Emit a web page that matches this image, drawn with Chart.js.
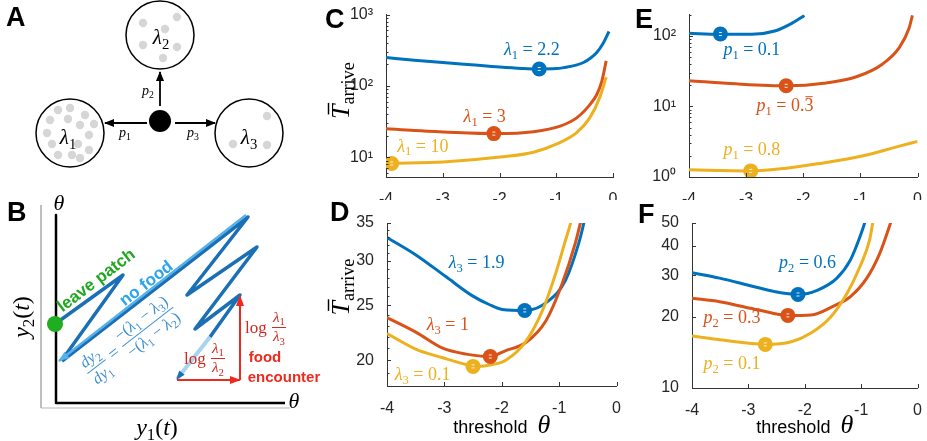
<!DOCTYPE html>
<html>
<head>
<meta charset="utf-8">
<script src="https://cdn.jsdelivr.net/npm/chart.js@4.4.0/dist/chart.umd.min.js"></script>
<style>
html,body{margin:0;padding:0;background:#fff}
#fig{position:relative;width:927px;height:441px;overflow:hidden;background:#fff}
#fig canvas{position:absolute}
.lt{position:absolute;font:bold 27px "Liberation Sans",Arial,sans-serif;line-height:27px;color:#000}
</style>
</head>
<body>
<div id="fig">
  <canvas id="cvAB" style="left:0px;top:0px" width="322" height="441"></canvas>
  <canvas id="cvC" style="left:322px;top:0px" width="304" height="200"></canvas>
  <canvas id="cvD" style="left:322px;top:205px" width="304" height="236"></canvas>
  <canvas id="cvE" style="left:630px;top:0px" width="297" height="200"></canvas>
  <canvas id="cvF" style="left:630px;top:205px" width="297" height="236"></canvas>
  <div class="lt" style="left:6px;top:4px">A</div>
  <div class="lt" style="left:7px;top:199px">B</div>
  <div class="lt" style="left:325px;top:6px">C</div>
  <div class="lt" style="left:330px;top:199px">D</div>
  <div class="lt" style="left:635px;top:6px">E</div>
  <div class="lt" style="left:638px;top:201px">F</div>
</div>
<script>
const SANS = '"Liberation Sans", Arial, Helvetica, sans-serif'
const SERIF = '"Liberation Serif", "Times New Roman", serif'
const COLORS = ['#0072BD', '#D95319', '#EDB120']
const AX = '#333333'
const TK = '#262626'
const TICK_SIZE = 16

// x axis: threshold theta
const thetaTicks = [-4, -3, -2, -1, 0]

// C: lambda1 = 2.2, 3, 10
const thetaC1 = [-4, -3.5, -3, -2.5, -2, -1.6, -1.3, -1, -0.85, -0.65, -0.52, -0.4, -0.29, -0.17, -0.07]
const tC1 = [250, 230, 213, 198, 184, 176, 173, 175, 182, 196, 213, 245, 292, 401, 579]
const thetaC2 = [-4, -3.5, -2.99, -2.05, -1.4, -0.93, -0.64, -0.41, -0.29, -0.2, -0.12]
const tC2 = [25.2, 23.7, 22.7, 21.5, 22.9, 27.4, 35.7, 54.4, 74.6, 114, 225]
const thetaC3 = [-3.9, -2.99, -1.99, -1.4, -0.99, -0.64, -0.41, -0.24, -0.12]
const tC3 = [8.2, 8.6, 10.1, 11.8, 15.4, 22.2, 35.7, 67, 133]
const optThetaC = [-1.3, -2.1, -3.9]
const optTC = [173, 21.5, 8.2]
const valuesC = ['2.2', '3', '10']

// D: lambda3 = 1.9, 1, 0.1
const thetaD1 = [-4, -3.49, -2.97, -2.51, -2.22, -1.99, -1.58, -1.18, -0.89, -0.66, -0.57, -0.5]
const tD1 = [33.0, 30.7, 28.1, 26.0, 25.1, 24.6, 24.5, 25.5, 27.7, 32.2, 35, 38]
const thetaD2 = [-4, -3.49, -3.03, -2.62, -2.22, -1.93, -1.58, -1.23, -0.95, -0.72, -0.63, -0.55]
const tD2 = [23.8, 22.4, 21.0, 20.5, 20.3, 20.8, 21.5, 23.5, 27.3, 32.2, 35, 38]
const thetaD3 = [-4, -3.49, -3.03, -2.62, -2.45, -2.16, -1.93, -1.58, -1.29, -1.06, -0.89, -0.8, -0.72]
const tD3 = [22.3, 20.9, 20.2, 19.65, 19.5, 19.65, 20.0, 21.6, 24.5, 28.5, 32.6, 35, 38]
const optThetaD = [-1.6, -2.2, -2.5]
const optTD = [24.5, 20.3, 19.5]
const valuesD = ['1.9', '1', '0.1']

// E: p1 = 0.1, 1/3, 0.8
const thetaE1 = [-4, -3.47, -2.9, -2.5, -2.21, -1.98]
const tE1 = [109, 105, 105, 117, 149, 194]
const thetaE2 = [-4, -3.18, -2.27, -1.64, -1.07, -0.61, -0.32, -0.15, -0.09]
const tE2 = [23.2, 20.9, 19.6, 21.3, 26.3, 40, 68, 127, 195]
const thetaE3 = [-4, -3.5, -2.9, -2.3, -1.75, -0.95, -0.32, 0]
const tE3 = [1.27, 1.24, 1.22, 1.33, 1.54, 2.0, 2.74, 3.2]
const optThetaE = [-3.45, -2.3, -2.92]
const optTE = [106, 19.6, 1.22]
const valuesE = ['0.1', '0.3bar', '0.8']

// F: p2 = 0.6, 1/3, 0.1
const thetaF1 = [-4, -3.51, -2.93, -2.53, -2.12, -1.77, -1.43, -1.19, -1.02, -0.93, -0.88]
const tF1 = [30.8, 29.2, 27.0, 25.6, 24.9, 26.0, 29.2, 34.9, 43.8, 50.7, 56]
const thetaF2 = [-4, -3.51, -2.82, -2.3, -1.89, -1.48, -1.19, -0.9, -0.67, -0.47, -0.42]
const tF2 = [24.0, 23.2, 21.4, 20.3, 20.4, 22.3, 24.4, 29.2, 37.2, 50.7, 55]
const thetaF3 = [-4, -3.51, -2.7, -2.24, -1.89, -1.54, -1.25, -1.02, -0.85, -0.79, -0.75]
const tF3 = [16.6, 16.0, 15.3, 15.7, 17.1, 20.0, 25.2, 32.7, 42.4, 50.7, 56]
const optThetaF = [-2.12, -2.3, -2.7]
const optTF = [24.9, 20.3, 15.3]
const valuesF = ['0.6', '0.3bar', '0.1']

// A: patches and food items (diagram coordinates)
const patchX = [70, 160, 249]
const patchY = [133, 35, 133]
const foodX = [58, 70, 50, 68, 85, 80, 94, 47, 89, 52, 78, 58, 72, 80, 89, 143, 177, 165, 143, 177, 163, 267, 233, 267]
const foodY = [110, 108, 120, 119, 115, 125, 124, 133, 135, 144, 144, 155, 155, 158, 150, 23, 17, 29, 45, 47, 58, 116, 144, 145]
const hubXY = [160, 121]
const arrowsA = [[[147, 123], [105, 123]], [[160, 106], [160, 72]], [[175, 123], [215, 123]]]

// B: belief trajectory
const axesB = [[56, 215], [56, 403], [285, 403]]
const frameB = [[41, 205], [41, 408], [290, 408]]
const zigzagB = [[210, 337], [240, 295], [195, 329], [257, 247], [187, 295], [248, 217], [62, 361]]
const leaveB = [[55, 324], [123, 275], [62, 360]]
const noFoodB = [[246, 215], [59, 361]]
const startB = [[210, 337], [177, 379]]
const jumpB1 = [[177, 380], [240, 380]]
const jumpB2 = [[240, 380], [240, 296]]

// ---------- rich text (italic symbols, subscripts, fractions)
function fontFor(k, sz){
  if (k.s === 'i') return 'italic ' + sz + 'px ' + SERIF
  if (k.s === 'b') return 'bold ' + sz + 'px ' + SANS
  if (k.s === 'sans') return sz + 'px ' + SANS
  return sz + 'px ' + SERIF
}
function tokSize(k, size){ return size * (k.k || 1) * (k.sub ? 0.7 : 1) }
function measure(ctx, toks, size){
  let w = 0
  for (const k of toks){
    if (k.frac){
      const fs = size * 0.9
      w += Math.max(measure(ctx, k.frac[0], fs), measure(ctx, k.frac[1], fs)) + 4
      continue
    }
    ctx.font = fontFor(k, tokSize(k, size))
    w += ctx.measureText(k.t).width
  }
  return w
}
function drawToks(ctx, toks, x, y, size){
  for (const k of toks){
    if (k.frac){
      const fs = size * 0.9
      const wn = measure(ctx, k.frac[0], fs), wd = measure(ctx, k.frac[1], fs)
      const w = Math.max(wn, wd) + 4
      const mid = y - size * 0.3
      drawToks(ctx, k.frac[0], x + (w - wn) / 2, mid - size * 0.32, fs)
      drawToks(ctx, k.frac[1], x + (w - wd) / 2, mid + size * 0.82, fs)
      ctx.fillRect(x + 1, mid - 0.5, w - 2, 1)
      x += w
      continue
    }
    const sz = tokSize(k, size)
    ctx.font = fontFor(k, sz)
    ctx.fillText(k.t, x, y + (k.sub ? size * 0.22 : 0))
    const tw = ctx.measureText(k.t).width
    if (k.bar){
      const sh = k.s === 'i' ? sz * 0.12 : 0
      ctx.fillRect(x + tw * 0.1 + sh, y - sz * 0.8, tw * 0.8, Math.max(1, sz / 18))
    }
    x += tw
  }
  return x
}
function drawMath(ctx, toks, cx, cy, size, color, rot){
  ctx.save()
  ctx.translate(cx, cy)
  if (rot) ctx.rotate(rot)
  ctx.fillStyle = color
  ctx.textAlign = 'left'
  ctx.textBaseline = 'alphabetic'
  const w = measure(ctx, toks, size)
  drawToks(ctx, toks, -w / 2, size * 0.33, size)
  ctx.restore()
}
const sym = (s, n) => [{t: s, s: 'i'}, {t: n, sub: true}]
const eqVal = v => v === '0.3bar' ? [{t: ' = 0.'}, {t: '3', bar: true}] : [{t: ' = ' + v}]

const TITLE_T = [{t: 'T', s: 'i', bar: true}, {t: 'arrive', sub: true}]
const TITLE_X = [{t: 'threshold  ', s: 'sans'}, {t: 'θ', s: 'i', k: 1.45}]

function series(xs, ys){ return xs.map((x, i) => ({x: x, y: ys[i]})) }

// ---------- curve panels C-F
function curvePanel(id, p){
  const datasets = []
  p.optTheta.forEach((x, i) => {
    datasets.push({data: [{x: x, y: p.optT[i]}], isMarker: true, showLine: false,
      pointRadius: 7.5, pointBackgroundColor: COLORS[i], pointBorderWidth: 0, order: 0})
  })
  p.curves.forEach((c, i) => {
    datasets.push({data: series(c[0], c[1]), showLine: true, borderColor: COLORS[i], borderWidth: 3,
      pointRadius: 0, cubicInterpolationMode: 'monotone', borderJoinStyle: 'round', order: 3 - i})
  })
  const annot = {
    id: 'annot' + id,
    afterDatasetsDraw(chart){
      const {ctx, chartArea: a, scales: {x, y}} = chart
      ctx.save()
      ctx.strokeStyle = AX
      ctx.lineWidth = 1
      ctx.beginPath()
      thetaTicks.forEach(v => {
        const px = Math.round(x.getPixelForValue(v)) + 0.5
        ctx.moveTo(px, a.bottom); ctx.lineTo(px, a.bottom - 4)
      })
      p.yTicks.forEach(v => {
        const py = Math.round(y.getPixelForValue(v)) + 0.5
        ctx.moveTo(a.left, py); ctx.lineTo(a.left + 4, py)
      })
      p.yMinor.forEach(v => {
        const py = Math.round(y.getPixelForValue(v)) + 0.5
        ctx.moveTo(a.left, py); ctx.lineTo(a.left + 2.5, py)
      })
      ctx.stroke()
      chart.data.datasets.forEach((ds, i) => {
        if (!ds.isMarker) return
        chart.getDatasetMeta(i).data.forEach(pt => {
          ctx.fillStyle = 'rgba(255,255,255,0.85)'
          ctx.fillRect(pt.x - 1.5, pt.y - 2, 3, 1)
          ctx.fillRect(pt.x - 1.5, pt.y + 1, 3, 1)
        })
      })
      p.values.forEach((v, i) => {
        drawMath(ctx, sym(p.sym, p.symIdx).concat(eqVal(v)),
          x.getPixelForValue(p.labelTheta[i]), y.getPixelForValue(p.labelT[i]), 18, COLORS[i])
      })
      if (p.yTitle) drawMath(ctx, TITLE_T, a.left + p.yTitle[0], a.top + p.yTitle[1], 26, '#000', -Math.PI / 2)
      if (p.xTitle) drawMath(ctx, TITLE_X, (a.left + a.right) / 2, a.bottom + p.xTitle, 18, '#000')
      ctx.restore()
    }
  }
  new Chart(document.getElementById(id), {
    type: 'scatter',
    data: {datasets: datasets},
    options: {
      responsive: false,
      animation: false,
      events: [],
      layout: {autoPadding: false, padding: {top: p.pad[0], right: p.pad[1], bottom: 0, left: 0}},
      plugins: {legend: {display: false}, tooltip: {enabled: false}},
      scales: {
        x: {
          type: 'linear', min: -4, max: 0,
          afterFit: s => { s.height = p.xH },
          afterBuildTicks: s => { s.ticks = thetaTicks.map(v => ({value: v})) },
          grid: {display: false},
          border: {display: true, color: AX, width: 1},
          ticks: {font: {family: SANS, size: TICK_SIZE}, color: TK, padding: 5, maxRotation: 0, autoSkip: false}
        },
        y: {
          type: 'logarithmic', min: p.yMin, max: p.yMax,
          afterFit: s => { s.width = p.yW },
          afterBuildTicks: s => { s.ticks = p.yTicks.map(v => ({value: v})) },
          grid: {display: false},
          border: {display: true, color: AX, width: 1},
          ticks: {font: {family: SANS, size: TICK_SIZE}, color: TK, padding: 5, autoSkip: false,
            callback: v => p.yLabel(v)}
        }
      }
    },
    plugins: [annot]
  })
}

const pow10 = {1: '10⁰', 10: '10¹', 100: '10²', 1000: '10³'}

curvePanel('cvC', {
  curves: [[thetaC1, tC1], [thetaC2, tC2], [thetaC3, tC3]],
  optTheta: optThetaC, optT: optTC, values: valuesC, sym: 'λ', symIdx: '1',
  labelTheta: [-1.43, -2.26, -3.35], labelT: [331, 37.6, 14.6],
  yMin: 5.3, yMax: 1000, yTicks: [10, 100, 1000],
  yMinor: [6, 7, 8, 9, 20, 30, 40, 50, 60, 70, 80, 90, 200, 300, 400, 500, 600, 700, 800, 900],
  yLabel: v => pow10[v] || '', pad: [11, 13], yW: 64, xH: 23, yTitle: [-46, 76]
})
curvePanel('cvD', {
  curves: [[thetaD1, tD1], [thetaD2, tD2], [thetaD3, tD3]],
  optTheta: optThetaD, optT: optTD, values: valuesD, sym: 'λ', symIdx: '3',
  labelTheta: [-2.44, -2.94, -3.38], labelT: [29.8, 23.2, 18.9],
  yMin: 18, yMax: 35, yTicks: [20, 25, 30, 35],
  yMinor: [18, 19, 21, 22, 23, 24, 26, 27, 28, 29, 31, 32, 33, 34],
  yLabel: v => String(v), pad: [18, 8], yW: 65, xH: 55, yTitle: [-47, 64], xTitle: 41
})
curvePanel('cvE', {
  curves: [[thetaE1, tE1], [thetaE2, tE2], [thetaE3, tE3]],
  optTheta: optThetaE, optT: optTE, values: valuesE, sym: 'p', symIdx: '1',
  labelTheta: [-2.9, -2.32, -2.9], labelT: [64, 10.6, 2.5],
  yMin: 1, yMax: 200, yTicks: [1, 10, 100],
  yMinor: [2, 3, 4, 5, 6, 7, 8, 9, 20, 30, 40, 50, 60, 70, 80, 90, 200],
  yLabel: v => pow10[v] || '', pad: [10, 5], yW: 59, xH: 23
})
curvePanel('cvF', {
  curves: [[thetaF1, tF1], [thetaF2, tF2], [thetaF3, tF3]],
  optTheta: optThetaF, optT: optTF, values: valuesF, sym: 'p', symIdx: '2',
  labelTheta: [-1.95, -3.29, -3.29], labelT: [34.2, 20.0, 12.8],
  yMin: 10, yMax: 50, yTicks: [10, 20, 30, 40, 50], yMinor: [],
  yLabel: v => String(v), pad: [18, 5], yW: 62, xH: 53, xTitle: 39
})

// ---------- diagram panels A and B
const DARK = '#1a6fb5', LIGHT = '#56b0ea', PALE = '#a9d4f0', REDA = '#ee2a1f', REDT = '#cf2a22'
const pts = arr => arr.map(q => ({x: q[0], y: q[1]}))
function path(arr, color, width, extra){
  return Object.assign({data: pts(arr), showLine: true, borderColor: color, borderWidth: width,
    pointRadius: 0, borderJoinStyle: 'round', clip: false, order: 3}, extra || {})
}
const diagramSets = [
  {data: patchX.map((x, i) => ({x: x, y: patchY[i]})), pointRadius: 34, pointBackgroundColor: '#fff',
    pointBorderColor: '#000', pointBorderWidth: 1.5, clip: false, order: 6},
  {data: foodX.map((x, i) => ({x: x, y: foodY[i]})), pointRadius: 4.2, pointBackgroundColor: '#d6d6d6',
    pointBorderWidth: 0, clip: false, order: 5},
  {data: [{x: hubXY[0], y: hubXY[1]}], pointRadius: 11, pointBackgroundColor: '#000', pointBorderWidth: 0, clip: false, order: 5},
  path(frameB, '#b5b5b5', 1, {order: 5}),
  path(axesB, '#000', 2.5, {order: 4}),
  path(zigzagB, DARK, 3.5),
  path(leaveB, DARK, 3.5),
  path(noFoodB, LIGHT, 2.5, {order: 2, head: [LIGHT, 10, 8]}),
  path(startB, PALE, 4, {order: 2, head: [DARK, 8, 7]}),
  path(jumpB1, REDA, 2, {order: 1, head: [REDA, 10, 8]}),
  path(jumpB2, REDA, 2, {order: 1, head: [REDA, 10, 8]}),
  {data: [{x: leaveB[0][0], y: leaveB[0][1]}], pointRadius: 8, pointBackgroundColor: '#1fae1f',
    pointBorderWidth: 0, clip: false, order: 0}
]
arrowsA.forEach(a => diagramSets.push(path(a, '#000', 1.8, {order: 4, head: ['#000', 9, 8]})))

const diagramText = [
  {at: [68, 137], toks: sym('λ', '1'), size: 21, color: '#000'},
  {at: [161, 37], toks: sym('λ', '2'), size: 21, color: '#000'},
  {at: [249, 137], toks: sym('λ', '3'), size: 21, color: '#000'},
  {at: [125, 132], toks: sym('p', '1'), size: 14, color: '#000'},
  {at: [148, 90], toks: sym('p', '2'), size: 14, color: '#000'},
  {at: [193, 132], toks: sym('p', '3'), size: 14, color: '#000'},
  {at: [59, 203], toks: [{t: 'θ', s: 'i'}], size: 22, color: '#000'},
  {at: [294, 401], toks: [{t: 'θ', s: 'i'}], size: 22, color: '#000'},
  {at: [21, 317], toks: [{t: 'y', s: 'i'}, {t: '2', sub: true}, {t: '('}, {t: 't', s: 'i'}, {t: ')'}], size: 24, color: '#000', rot: -Math.PI / 2},
  {at: [157, 427], toks: [{t: 'y', s: 'i'}, {t: '1', sub: true}, {t: '('}, {t: 't', s: 'i'}, {t: ')'}], size: 24, color: '#000'},
  {at: [96, 280], toks: [{t: 'leave patch', s: 'b'}], size: 17, color: '#22a722', rot: -0.65},
  {at: [146, 283], toks: [{t: 'no food', s: 'b'}], size: 17, color: '#2aa4ee', rot: -0.66},
  {at: [130, 340], toks: [
    {frac: [[{t: 'd', s: 'i'}, {t: 'y', s: 'i'}, {t: '2', sub: true}], [{t: 'd', s: 'i'}, {t: 'y', s: 'i'}, {t: '1', sub: true}]]},
    {t: ' = '},
    {frac: [[{t: '−('}].concat(sym('λ', '1'), [{t: ' − '}], sym('λ', '3'), [{t: ')'}]),
            [{t: '−('}].concat(sym('λ', '1'), [{t: ' − '}], sym('λ', '2'), [{t: ')'}])]}
  ], size: 18, color: '#3b8fd0', rot: -0.66},
  {at: [266, 327], toks: [{t: 'log '}, {frac: [sym('λ', '1'), sym('λ', '3')]}], size: 17, color: REDT},
  {at: [205, 358], toks: [{t: 'log '}, {frac: [sym('λ', '1'), sym('λ', '2')]}], size: 17, color: REDT},
  {at: [265, 357], toks: [{t: 'food', s: 'b'}], size: 15, color: REDA},
  {at: [284, 377], toks: [{t: 'encounter', s: 'b'}], size: 15, color: REDA}
]

const diagramDecor = {
  id: 'diagramDecor',
  afterDatasetsDraw(chart){
    const {ctx, scales: {x, y}} = chart
    chart.data.datasets.forEach((ds, i) => {
      if (!ds.head) return
      const el = chart.getDatasetMeta(i).data
      const p1 = el[el.length - 2], p2 = el[el.length - 1]
      const ang = Math.atan2(p2.y - p1.y, p2.x - p1.x)
      ctx.save()
      ctx.translate(p2.x, p2.y)
      ctx.rotate(ang)
      ctx.beginPath()
      ctx.moveTo(1, 0)
      ctx.lineTo(-ds.head[1], -ds.head[2] / 2)
      ctx.lineTo(-ds.head[1], ds.head[2] / 2)
      ctx.closePath()
      ctx.fillStyle = ds.head[0]
      ctx.fill()
      ctx.restore()
    })
    diagramText.forEach(d => {
      drawMath(ctx, d.toks, x.getPixelForValue(d.at[0]), y.getPixelForValue(d.at[1]), d.size, d.color, d.rot)
    })
  }
}

new Chart(document.getElementById('cvAB'), {
  type: 'scatter',
  data: {datasets: diagramSets},
  options: {
    responsive: false,
    animation: false,
    events: [],
    layout: {autoPadding: false, padding: 0},
    plugins: {legend: {display: false}, tooltip: {enabled: false}},
    scales: {
      x: {type: 'linear', min: 0, max: 322, display: false},
      y: {type: 'linear', min: 0, max: 441, reverse: true, display: false}
    }
  },
  plugins: [diagramDecor]
})
</script>
</body>
</html>
